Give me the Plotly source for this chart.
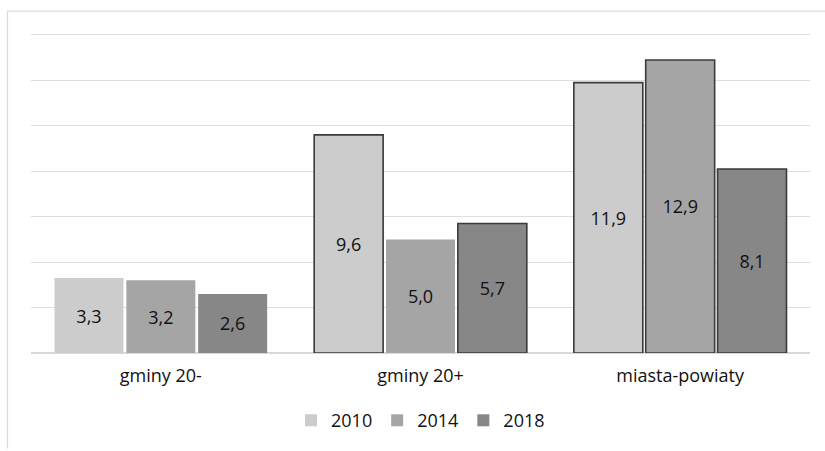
import plotly.graph_objects as go

# Categories and series values
categories = ["gminy 20-", "gminy 20+", "miasta-powiaty"]
years = ["2010", "2014", "2018"]
v2010 = [3.3, 9.6, 11.9]
v2014 = [3.2, 5.0, 12.9]
v2018 = [2.6, 5.7, 8.1]

series = [v2010, v2014, v2018]
fills = ["#cccccc", "#a5a5a5", "#878787"]
# bars drawn with a dark outline (per category)
outlined = [
    [False, True, True],
    [False, False, True],
    [False, True, True],
]

FONT = "Open Sans, Noto Sans, sans-serif"
TXT = "#111111"

fig = go.Figure()
for name, vals, col, outl in zip(years, series, fills, outlined):
    fig.add_trace(go.Bar(
        name=name,
        x=categories,
        y=vals,
        text=[f"{v:.1f}".replace(".", ",") for v in vals],
        textposition="inside",
        insidetextanchor="middle",
        textangle=0,
        constraintext="none",
        textfont=dict(family=FONT, size=18, color=TXT),
        marker=dict(
            color=col,
            line=dict(
                color=["#3a3a3a" if o else col for o in outl],
                width=[1.6 if o else 0 for o in outl],
            ),
        ),
    ))

# plot area in pixels: x 31..810, y 30..355 (value axis 0..14 spans 355..35)
W, H = 825, 451
L, R, T, B = 31, 15, 30, 96
pw, ph = W - L - R, H - T - B
YMAX = 14 * ph / 320.0


def px(x):
    return (x - L) / pw


def py(y):
    return (H - B - y) / ph


# light outer frame (top and left edges)
frame = dict(type="line", xref="paper", yref="paper",
             line=dict(color="#d9d9d9", width=1.2))
shapes = [
    dict(frame, x0=px(7.5), x1=px(825), y0=py(11), y1=py(11)),
    dict(frame, x0=px(7.5), x1=px(7.5), y0=py(11), y1=py(451)),
]

fig.update_layout(
    width=W, height=H,
    margin=dict(l=L, r=R, t=T, b=B, pad=0),
    paper_bgcolor="white",
    plot_bgcolor="white",
    barmode="group",
    bargap=0.17,
    bargroupgap=0.04,
    font=dict(family=FONT, size=18, color=TXT),
    showlegend=True,
    legend=dict(
        orientation="h",
        x=0.5, xanchor="center",
        y=py(423), yanchor="middle",
        font=dict(family=FONT, size=18, color=TXT),
        itemwidth=30,
        tracegroupgap=0,
    ),
    shapes=shapes,
)
fig.update_xaxes(
    showline=False, showgrid=False, ticks="",
    ticklabelstandoff=10,
    tickfont=dict(family=FONT, size=18, color=TXT),
)
fig.update_yaxes(
    range=[0, YMAX], tickvals=[0, 2, 4, 6, 8, 10, 12, 14],
    showticklabels=False,
    showgrid=True, gridcolor="#dedede", gridwidth=1,
    zeroline=True, zerolinecolor="#d9d9d9", zerolinewidth=1.5,
    showline=False, ticks="",
)

fig.write_html("out.html")
